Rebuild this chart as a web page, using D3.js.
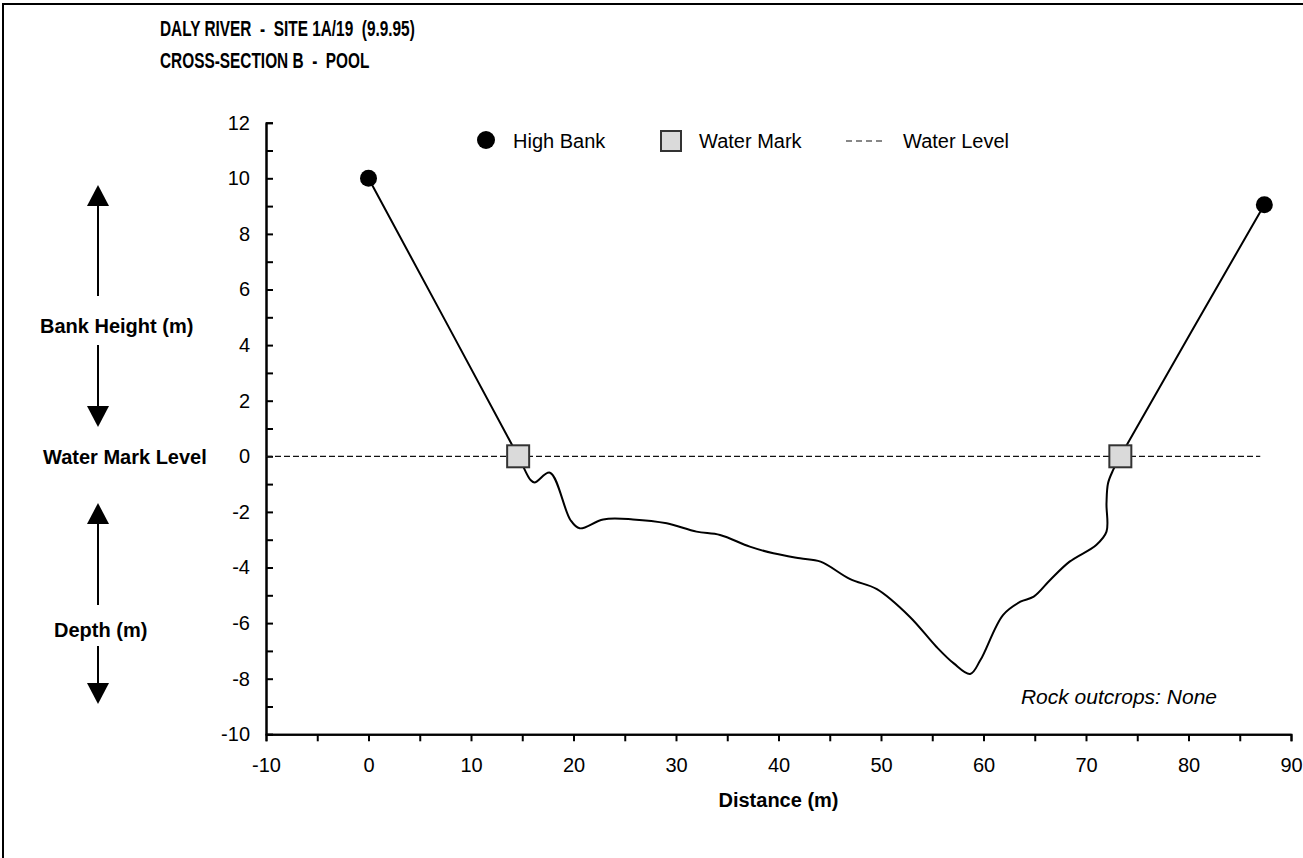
<!DOCTYPE html>
<html>
<head>
<meta charset="utf-8">
<script src="https://cdn.jsdelivr.net/npm/d3@7"></script>
<style>
  body { margin: 0; background: #fff; overflow: hidden; }
  svg { display: block; font-family: "Liberation Sans", Arial, sans-serif; }
  text { white-space: pre; }
</style>
</head>
<body>
<svg id="chart" width="1303" height="858"></svg>
<script>
// cross-section survey, distance (m) vs height above water mark (m)
const profileX = [0, 14.6, 15.8, 16.2, 17.7, 19.7, 20.6, 22.9, 25.8, 29.1, 32.0, 34.3, 37.2, 39.5, 42.1, 44.1, 47.0, 49.6, 52.8, 55.4, 57.1, 58.7, 59.7, 61.9, 63.6, 64.9, 66.5, 68.4, 71.0, 72.0, 72.0, 72.15, 72.65, 73.35, 87.4];
const profileY = [10, 0, -0.85, -0.94, -0.59, -2.29, -2.59, -2.27, -2.27, -2.41, -2.71, -2.83, -3.25, -3.49, -3.67, -3.79, -4.42, -4.78, -5.77, -6.85, -7.45, -7.83, -7.33, -5.71, -5.23, -5.05, -4.45, -3.79, -3.19, -2.71, -1.69, -0.97, -0.49, 0, 9.05];

const highBankX = [0, 87.4];
const highBankY = [10, 9.05];
const waterMarkX = [14.6, 73.35];
const waterMarkY = [0, 0];
const waterLevelX = [-10, 87];
const waterLevelY = [0, 0];

const xTicks = [-10, 0, 10, 20, 30, 40, 50, 60, 70, 80, 90];
const yTicks = [-10, -8, -6, -4, -2, 0, 2, 4, 6, 8, 10, 12];

const titleLines = ["DALY RIVER  -  SITE 1A/19  (9.9.95)", "CROSS-SECTION B  -  POOL"];

const svg = d3.select('#chart');

// frame round the whole sheet (only left/top edges are on screen)
svg.append('rect')
    .attr('x', 3).attr('y', 4)
    .attr('width', 1400).attr('height', 1000)
    .attr('fill', 'none').attr('stroke', '#000').attr('stroke-width', 2);

const x = d3.scaleLinear().domain([-10, 90]).range([266, 1291]);
const y = d3.scaleLinear().domain([-10, 12]).range([734.3, 122.7]);

// title is set in a narrow bold face -> squeeze regular bold horizontally
svg.append('g')
    .attr('transform', 'translate(160,0) scale(0.7,1)')
  .selectAll('text')
  .data(titleLines)
  .join('text')
    .attr('x', 0)
    .attr('y', (d, i) => 36 + i * 32)
    .attr('font-size', 22)
    .attr('font-weight', 'bold')
    .text(d => d);

// axes
const yAxis = svg.append('g')
    .attr('transform', `translate(${x(-10)},0)`)
    .call(d3.axisLeft(y).tickValues(yTicks).tickFormat(d => String(d))
      .tickSizeInner(-7).tickSizeOuter(0).tickPadding(16));
yAxis.append('g')
    .call(d3.axisLeft(y).tickValues(d3.range(-9, 12, 2)).tickSize(-7).tickFormat(''));

const xAxis = svg.append('g')
    .attr('transform', `translate(0,${y(-10)})`)
    .call(d3.axisBottom(x).tickValues(xTicks).tickFormat(d => String(d))
      .tickSizeInner(7).tickSizeOuter(0).tickPadding(17));
xAxis.append('g')
    .call(d3.axisBottom(x).tickValues(d3.range(-5, 90, 10)).tickSize(7).tickFormat(''));

svg.selectAll('.domain').attr('stroke', '#000').attr('stroke-width', 2);
svg.selectAll('.tick line').attr('stroke', '#000').attr('stroke-width', 2);
svg.selectAll('.tick text')
    .attr('font-family', '"Liberation Sans", Arial, sans-serif')
    .attr('font-size', 20).attr('fill', '#000');

// water level
svg.append('line')
    .attr('x1', x(waterLevelX[0])).attr('y1', y(waterLevelY[0]))
    .attr('x2', x(waterLevelX[1])).attr('y2', y(waterLevelY[1]))
    .attr('stroke', '#111').attr('stroke-width', 1.2)
    .attr('stroke-dasharray', '6,3');

// bed profile
const line = d3.line()
    .x((d, i) => x(profileX[i]))
    .y(d => y(d))
    .curve(d3.curveCatmullRom.alpha(0.5));
svg.append('path')
    .attr('d', line(profileY))
    .attr('fill', 'none').attr('stroke', '#000').attr('stroke-width', 2);

// markers
svg.append('g')
  .selectAll('circle')
  .data(highBankX)
  .join('circle')
    .attr('cx', d => x(d))
    .attr('cy', (d, i) => y(highBankY[i]))
    .attr('r', 8.5).attr('fill', '#000');

svg.append('g')
  .selectAll('rect')
  .data(waterMarkX)
  .join('rect')
    .attr('x', d => x(d) - 11)
    .attr('y', (d, i) => y(waterMarkY[i]) - 11)
    .attr('width', 22).attr('height', 22)
    .attr('fill', '#dadada').attr('stroke', '#333').attr('stroke-width', 2);

// legend
const leg = svg.append('g').attr('font-size', 20);
leg.append('circle').attr('cx', 486).attr('cy', 140).attr('r', 9).attr('fill', '#000');
leg.append('text').attr('x', 513).attr('y', 148).text('High Bank');
leg.append('rect').attr('x', 661).attr('y', 131).attr('width', 20).attr('height', 20)
    .attr('fill', '#dadada').attr('stroke', '#333').attr('stroke-width', 2);
leg.append('text').attr('x', 699).attr('y', 148).text('Water Mark');
leg.append('line').attr('x1', 846).attr('x2', 882).attr('y1', 141).attr('y2', 141)
    .attr('stroke', '#111').attr('stroke-width', 1.2).attr('stroke-dasharray', '6,4');
leg.append('text').attr('x', 903).attr('y', 148).text('Water Level');

// axis title and note
svg.append('text')
    .attr('x', x(40)).attr('y', 807)
    .attr('text-anchor', 'middle')
    .attr('font-size', 20).attr('font-weight', 'bold')
    .text('Distance (m)');

svg.append('text')
    .attr('x', 1217).attr('y', 704)
    .attr('text-anchor', 'end')
    .attr('font-size', 21).attr('font-style', 'italic')
    .text('Rock outcrops: None');

// left-hand annotation with arrows
const defs = svg.append('defs');
defs.append('marker')
    .attr('id', 'head')
    .attr('viewBox', '0 0 21 22')
    .attr('refX', 0).attr('refY', 11)
    .attr('markerWidth', 21).attr('markerHeight', 22)
    .attr('markerUnits', 'userSpaceOnUse')
    .attr('orient', 'auto')
  .append('path')
    .attr('d', 'M0,0L21,11L0,22Z')
    .attr('fill', '#000');

const arrows = [[296, 206], [345, 406], [605, 524], [646, 683]];
svg.append('g')
  .selectAll('line')
  .data(arrows)
  .join('line')
    .attr('x1', 98).attr('x2', 98)
    .attr('y1', d => d[0]).attr('y2', d => d[1])
    .attr('stroke', '#000').attr('stroke-width', 2)
    .attr('marker-end', 'url(#head)');

const sideLabels = [['Bank Height (m)', 40, 333], ['Water Mark Level', 43, 464], ['Depth (m)', 54, 637]];
svg.append('g')
  .selectAll('text')
  .data(sideLabels)
  .join('text')
    .attr('x', d => d[1])
    .attr('y', d => d[2])
    .attr('font-size', 20).attr('font-weight', 'bold')
    .text(d => d[0]);
</script>
</body>
</html>
